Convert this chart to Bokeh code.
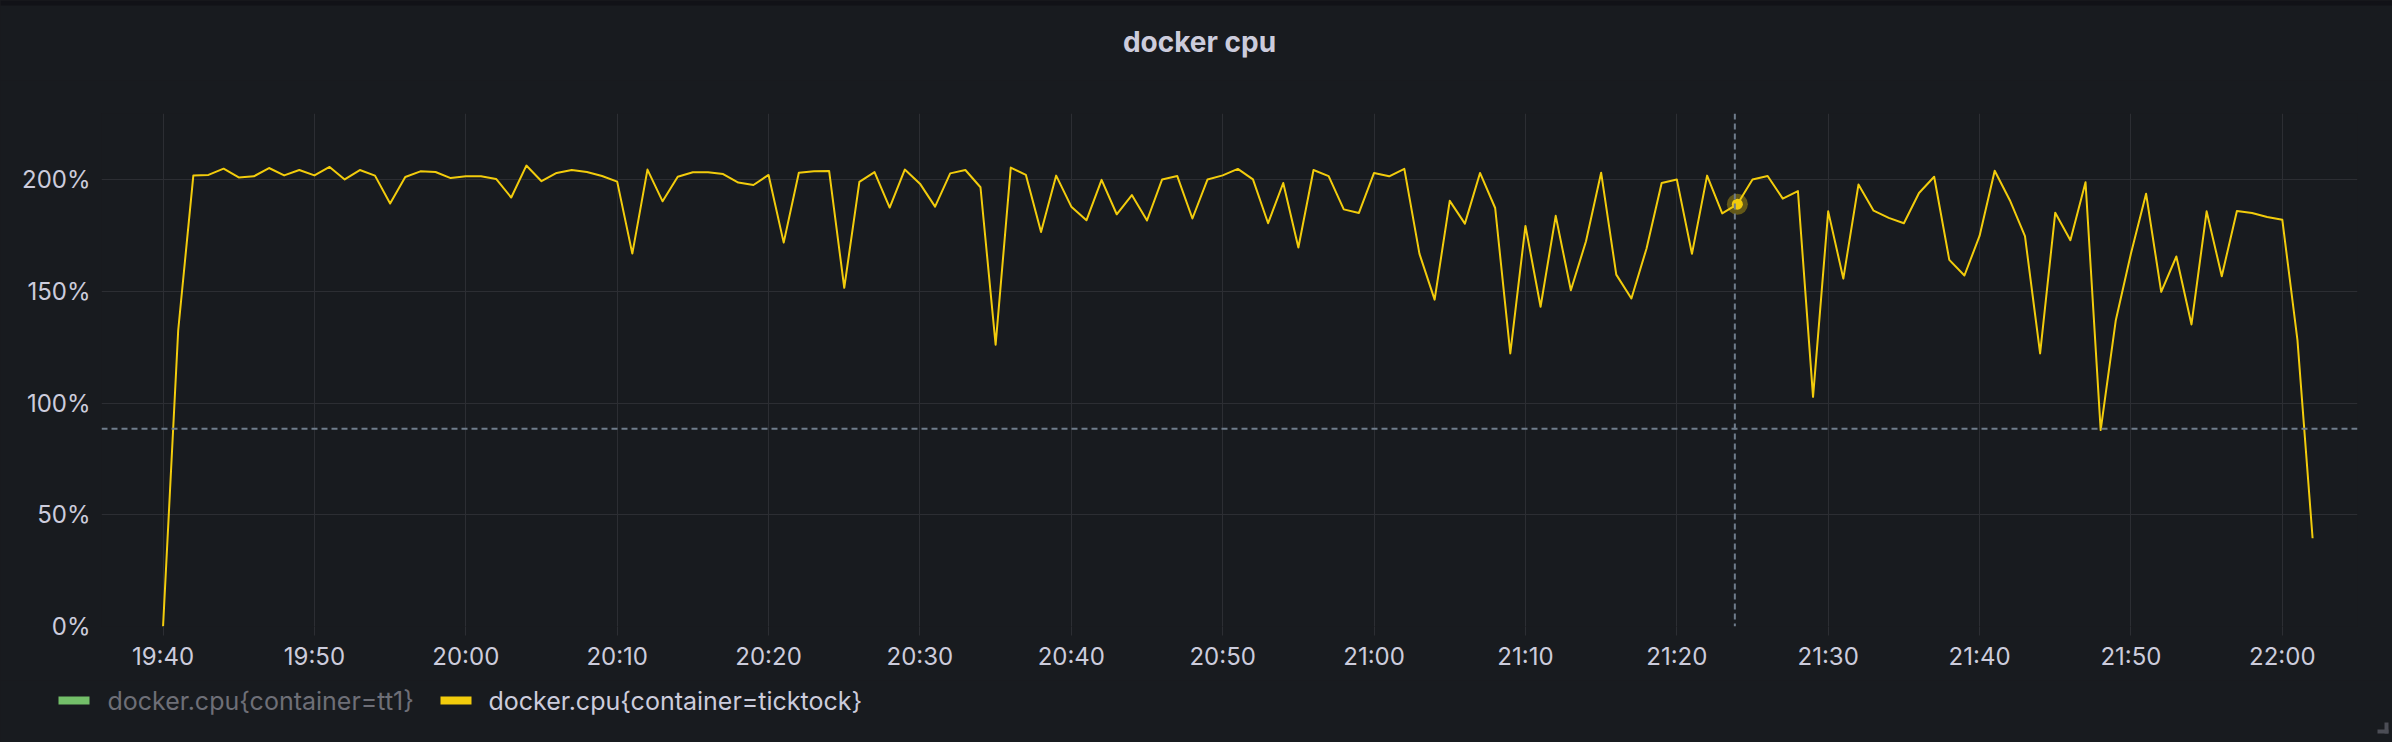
import pandas as pd
from bokeh.plotting import figure
from bokeh.layouts import column
from bokeh.models import (Range1d, FixedTicker, DatetimeTickFormatter, PrintfTickFormatter,
                          Span, ColumnDataSource)
from bokeh.core.properties import value
from bokeh.embed import file_html
from bokeh.resources import INLINE

# ---------------- data ----------------
start_time = "2024-01-01 19:40"
cpu_ticktock = [
    0.0, 132.6, 201.8, 202.1, 204.9, 201.0, 201.5, 205.2, 201.9, 204.3,
    201.9, 205.7, 200.1, 204.3, 201.8, 189.3, 201.2, 203.7, 203.4, 200.7,
    201.5, 201.5, 200.3, 192.0, 206.3, 199.3, 203.0, 204.3, 203.4, 201.6,
    199.1, 166.9, 204.5, 190.3, 201.3, 203.3, 203.3, 202.5, 198.7, 197.6,
    202.1, 171.8, 203.1, 203.7, 203.9, 151.6, 199.0, 203.4, 187.5, 204.5,
    198.2, 187.9, 202.8, 204.3, 196.6, 126.1, 205.4, 202.1, 176.6, 201.8,
    187.9, 181.8, 199.9, 184.5, 193.1, 181.7, 200.1, 201.6, 182.6, 200.1,
    201.9, 204.8, 200.1, 180.5, 198.5, 169.6, 204.3, 201.6, 186.7, 185.1,
    203.0, 201.5, 204.8, 166.8, 146.3, 190.5, 180.3, 203.0, 187.3, 122.2,
    179.3, 143.1, 183.8, 150.5, 172.4, 203.1, 157.5, 146.8, 169.2, 198.5,
    200.1, 166.8, 201.8, 184.9, 189.0, 200.1, 201.6, 191.5, 194.9, 102.8,
    185.8, 155.7, 197.8, 186.1, 182.9, 180.5, 194.0, 201.3, 164.1, 157.1,
    174.8, 204.0, 190.8, 174.7, 122.2, 185.2, 172.9, 198.8, 87.9, 137.1,
    166.9, 193.7, 149.8, 165.6, 135.2, 185.8, 156.8, 186.0, 185.1, 183.3,
    182.0, 128.2, 39.5,
]
times = pd.date_range(start_time, periods=len(cpu_ticktock), freq="1min")

x_tick_labels = ["19:40", "19:50", "20:00", "20:10", "20:20", "20:30", "20:40", "20:50",
                 "21:00", "21:10", "21:20", "21:30", "21:40", "21:50", "22:00"]
y_ticks = [0, 50, 100, 150, 200]
series_names = ["docker.cpu{container=tt1}", "docker.cpu{container=ticktock}"]
title_text = "docker cpu"

hover_index = 104
crosshair_time = "2024-01-01 21:23:50"
crosshair_value = 88.5
x_start, x_end = "2024-01-01 19:35:56", "2024-01-01 22:04:58"
y_min, y_max = 0, 229.6

# ---------------- style ----------------
BG = "#181b1f"
PAGE = "#111217"
GRID = "#2c2e33"
TEXT = "#ccccdc"
DIM = "#6e6f77"
YELLOW = "#f2cc0c"
GREEN = "#73bf69"
CROSS = "#6f7d8c"
W = 2392


def ms(t):
    return pd.Timestamp(t).value / 1e6


def blank(h):
    f = figure(width=W, height=h, x_range=Range1d(0, W), y_range=Range1d(0, h),
               output_backend="svg", toolbar_location=None, title=None,
               x_axis_location=None, y_axis_location=None, min_border=0,
               frame_align=False,
               background_fill_color=BG, border_fill_color=BG, outline_line_color=None)
    f.grid.visible = False
    return f


# ---------------- header (title) ----------------
H_HDR = 80
hdr = blank(H_HDR)
hdr.quad(left=0, right=W, bottom=H_HDR - 5, top=H_HDR, color=PAGE, line_color=None)
hdr.text(x=[1199], y=[H_HDR - 41], text=[title_text], text_align="center",
         text_baseline="alphabetic", text_font=value("Inter"), text_font_style="bold",
         text_font_size="28px", text_color=TEXT)

# ---------------- main chart ----------------
H_MAIN = 600
p = figure(width=W, height=H_MAIN, x_axis_type="datetime", title=None,
           output_backend="svg", toolbar_location=None, frame_align=False,
           x_range=Range1d(ms(x_start), ms(x_end)), y_range=Range1d(y_min, y_max),
           min_border_left=101, min_border_right=35, min_border_top=33, min_border_bottom=54,
           background_fill_color=BG, border_fill_color=BG, outline_line_color=None)

xt = [ms(f"2024-01-01 {lbl}") for lbl in x_tick_labels]
p.xaxis.ticker = FixedTicker(ticks=xt)
p.xaxis.formatter = DatetimeTickFormatter(minutes="%H:%M", hours="%H:%M", minsec="%H:%M",
                                          seconds="%H:%M", days="%H:%M")
p.yaxis.ticker = FixedTicker(ticks=y_ticks)
p.yaxis.formatter = PrintfTickFormatter(format="%d%%")

for ax in (p.xaxis[0], p.yaxis[0]):
    ax.axis_line_color = None
    ax.minor_tick_line_color = None
    ax.major_label_text_font = "Inter"
    ax.major_label_text_font_size = "24px"
    ax.major_label_text_color = TEXT

p.xaxis.major_tick_line_color = GRID
p.xaxis.major_tick_out = 9
p.xaxis.major_tick_in = 0
p.xaxis.major_label_standoff = 6
p.yaxis.major_tick_line_color = None
p.yaxis.major_tick_out = 0
p.yaxis.major_tick_in = 0
p.yaxis.major_label_standoff = 11

p.xgrid.grid_line_color = GRID
p.ygrid.grid_line_color = GRID

src = ColumnDataSource(data=dict(t=times, v=cpu_ticktock))
p.line("t", "v", source=src, line_color=YELLOW, line_width=2, line_join="round")

p.add_layout(Span(location=ms(crosshair_time), dimension="height", line_color=CROSS,
                  line_width=2, line_dash="6 4"))
p.add_layout(Span(location=crosshair_value, dimension="width", line_color=CROSS,
                  line_width=2, line_dash="6 4"))

hp = ColumnDataSource(data=dict(t=[times[hover_index]], v=[cpu_ticktock[hover_index]]))
p.scatter("t", "v", source=hp, size=21, fill_color=YELLOW, fill_alpha=0.35, line_color=None)
p.scatter("t", "v", source=hp, size=11, fill_color=YELLOW, line_color=None)

# ---------------- legend ----------------
H_LEG = 62
lg = blank(H_LEG)
swatch_left = [58, 440]
label_x = [107, 488]
series_colors = [GREEN, YELLOW]
label_colors = [DIM, TEXT]
lg.quad(left=swatch_left, right=[v + 31 for v in swatch_left], bottom=38, top=46,
        color=series_colors, line_color=None)
lg.text(x=label_x, y=[42, 42], text=series_names, text_color=label_colors,
        text_baseline="middle", text_font=value("Inter"), text_font_size="25px")
# panel resize handle
lg.quad(left=[2384, 2377], right=[2388, 2388], bottom=[9, 9], top=[20, 13],
        color="#4b4d55", line_color=None)

layout = column(hdr, p, lg, spacing=0)

html = file_html(layout, INLINE)
html = html.replace("<head>", "<head><style>html,body{background:#181b1f;}</style>", 1)
open("out.html", "w").write(html)
